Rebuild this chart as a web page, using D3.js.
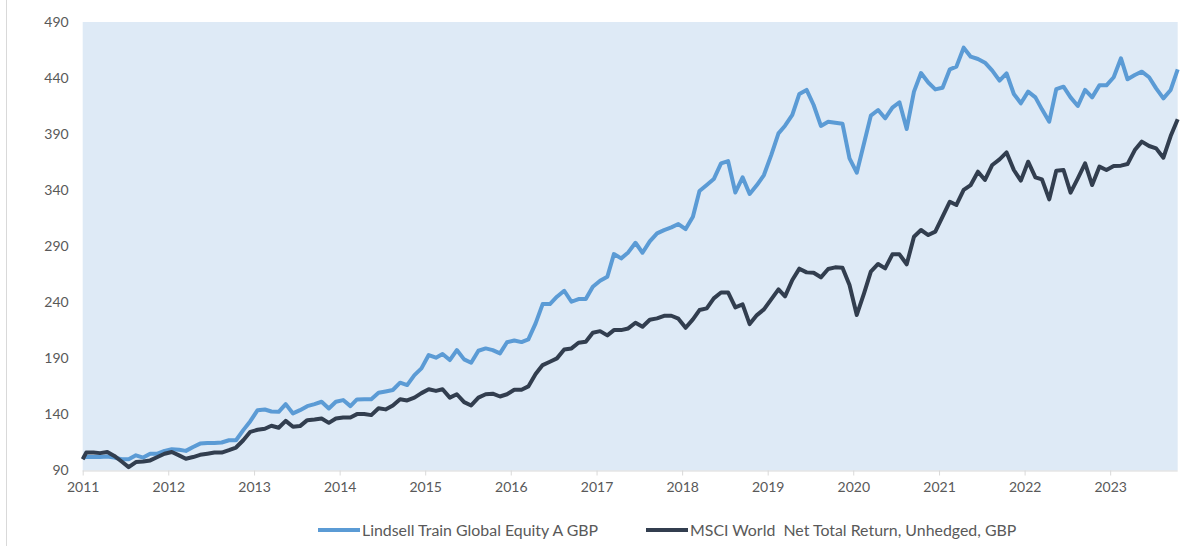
<!DOCTYPE html>
<html>
<head>
<meta charset="utf-8">
<script src="https://cdn.jsdelivr.net/npm/d3@7"></script>
<style>
  body { margin: 0; background: #ffffff; }
  text { font-family: Lato, "Open Sans", sans-serif; fill: #595959; }
</style>
</head>
<body>
<script>
    var w = 1203; //width of the SVG canvas
    var h = 546; //height of the SVG canvas
    var plotLeft = 82.7, plotRight = 1177.7, plotTop = 22, plotBottom = 470.5; //plot area edges

    var seriesNames = ["Lindsell Train Global Equity A GBP", "MSCI World  Net Total Return, Unhedged, GBP"];
    var seriesColors = ["#5b9bd5", "#323e4f"];
    var yTicks = [90, 140, 190, 240, 290, 340, 390, 440, 490];
    var xTickYears = [2011, 2012, 2013, 2014, 2015, 2016, 2017, 2018, 2019, 2020, 2021, 2022, 2023];

    //first value is the start (1 Jan 2011), then one value per month Jan 2011 .. Oct 2023
    var lindsell = [101.5,
        102, 102, 102, 102.5, 101.5, 100, 100, 103.5, 101.5, 105, 105, 107.5,
        109, 108.5, 107.5, 111, 114, 114.5, 114.5, 115, 117, 117, 126, 134,
        143.8, 144.4, 142.6, 142.3, 149.2, 140.9, 143.8, 147.4, 149.2, 151.3, 145.3, 151.3,
        152.8, 147.4, 153.4, 153.6, 153.6, 159.3, 160.5, 161.8, 168.3, 166.2, 175.1, 181.1,
        193, 190.6, 193.9, 188.5, 197.4, 189.1, 186.1, 196.8, 198.9, 197.4, 194.5, 204.4,
        206, 204.5, 206.9, 221.2, 238.4, 238.4, 245, 250.3, 240.5, 242.9, 242.9, 253.9,
        259.2, 262.8, 283, 279.2, 284.5, 293.1, 284.2, 294.3, 301.5, 304.4, 306.8, 309.8,
        305.3, 316.3, 339.2, 344.6, 349.9, 363.9, 366, 338, 351.4, 336.6, 344.6, 353.5,
        371.3, 390.7, 397.5, 407.1, 425.8, 429.4, 416, 397.3, 401.1, 400.2, 399.3, 368.4,
        355.6, 381.8, 406.5, 411.5, 404.1, 413.6, 418.4, 394.6, 427.9, 444.5, 436, 429.9,
        431.4, 447.8, 450.2, 467.1, 459.1, 457, 453.7, 446.6, 437.7, 444.2, 425.8, 417.5,
        427.9, 422.8, 412.1, 401.1, 430.1, 432.3, 422.8, 415.1, 429.4, 422.8, 433.5, 433.5,
        440.7, 457.6, 438.9, 442.7, 445.7, 440.7, 430.8, 421.9, 429.4, 447.8];

    var msci = [100,
        106, 106, 105.5, 106.5, 103, 98, 93, 97.5, 98, 99, 102, 105,
        106.5, 103.5, 100.5, 102, 104, 105, 106, 106, 108.2, 110.5, 117, 124.5,
        126.3, 127.2, 129.9, 128.1, 134.3, 129, 129.6, 134.9, 135.5, 136.4, 132.5, 136.4,
        137.3, 137.3, 140.3, 140.3, 139.4, 145.5, 144.5, 148, 153.5, 152.5, 155, 159,
        162.5, 161, 162.5, 155, 158, 151, 148, 155, 158, 158.5, 156, 158,
        162, 162, 165, 176, 184, 187, 190, 198, 198.9, 203.9, 204.8, 212.9,
        214.3, 210.5, 215.2, 215.2, 216.7, 221.8, 218.2, 224.5, 225.7, 228, 228, 225.4,
        217.3, 224.8, 233.1, 234.6, 243.5, 248.8, 248.8, 235.5, 238.1, 220.6, 228.6, 233.7,
        242.6, 251.5, 245.3, 259.9, 270, 266.7, 266.4, 262.3, 269.7, 271.2, 270.9, 255.4,
        228.7, 248, 267.3, 274.2, 270.3, 282.8, 282.8, 273.9, 298.5, 304.5, 300, 303,
        316.4, 329.7, 326.8, 340.2, 344.6, 356.5, 349.1, 362.5, 367.5, 373.7, 358, 348.5,
        365.4, 351.5, 349.7, 331.8, 357.4, 358, 337.8, 350.6, 363.9, 344.6, 361, 358,
        361.6, 361.9, 363.3, 375.8, 383.3, 379.4, 377.3, 369, 388.3, 403.2];

    //dates: start point, then the middle of each month
    var start = new Date(2011, 0, 1);
    var dates = [start].concat(d3.range(lindsell.length - 1).map(function(k) {
        return d3.timeDay.offset(d3.timeMonth.offset(start, k), 15);
    }));

    var xScale = d3.scaleTime()
        .domain([start, dates[dates.length - 1]])
        .range([plotLeft, plotRight]);

    var yScale = d3.scaleLinear()
        .domain([90, 490])
        .range([plotBottom, plotTop]);

    var svg = d3.select("body")
        .append("svg")
        .attr("width", w)
        .attr("height", h);

    //left frame line of the chart
    svg.append("line")
        .attr("x1", 6.5).attr("x2", 6.5)
        .attr("y1", 0).attr("y2", h)
        .attr("stroke", "#d9d9d9")
        .attr("stroke-width", 1);

    //plot area background
    svg.append("rect")
        .attr("x", plotLeft)
        .attr("y", plotTop)
        .attr("width", plotRight - plotLeft)
        .attr("height", plotBottom - plotTop)
        .attr("fill", "#deeaf6");

    //y axis: labels only
    var yAxis = d3.axisLeft(yScale)
        .tickValues(yTicks)
        .tickSize(0)
        .tickPadding(14);

    svg.append("g")
        .attr("class", "y axis")
        .attr("transform", "translate(" + plotLeft + ", 0)")
        .call(yAxis)
        .call(function(g) { g.select(".domain").remove(); })
        .selectAll("text")
        .style("font-size", "14px")
        .attr("fill", "#595959");

    //x axis: yearly ticks
    var xAxis = d3.axisBottom(xScale)
        .tickValues(xTickYears.map(function(y) { return new Date(y, 0, 1); }))
        .tickFormat(d3.timeFormat("%Y"))
        .tickSize(5)
        .tickPadding(7);

    var gx = svg.append("g")
        .attr("class", "x axis")
        .attr("transform", "translate(0, " + plotBottom + ")")
        .call(xAxis);

    gx.select(".domain")
        .attr("d", "M" + plotLeft + ",0.5H" + plotRight)
        .attr("stroke", "#d9d9d9");
    gx.selectAll(".tick line").attr("stroke", "#d9d9d9");
    gx.selectAll("text")
        .style("font-size", "14px")
        .attr("fill", "#595959");

    //lines
    var series = [lindsell, msci];
    var line = d3.line()
        .x(function(d, i) { return xScale(dates[i]); })
        .y(function(d) { return yScale(d); });

    svg.selectAll("path.series")
        .data(series)
        .enter()
        .append("path")
        .attr("class", "series")
        .attr("d", line)
        .attr("fill", "none")
        .attr("stroke", function(d, i) { return seriesColors[i]; })
        .attr("stroke-width", 4)
        .attr("stroke-linejoin", "round");

    //legend
    var legendX = [318, 646];
    var legend = svg.selectAll("g.legend")
        .data(seriesNames)
        .enter()
        .append("g")
        .attr("class", "legend")
        .attr("transform", function(d, i) { return "translate(" + legendX[i] + ", 530)"; });

    legend.append("line")
        .attr("x1", 0).attr("x2", 42)
        .attr("y1", 0).attr("y2", 0)
        .attr("stroke", function(d, i) { return seriesColors[i]; })
        .attr("stroke-width", 4);

    legend.append("text")
        .attr("x", 44)
        .attr("y", 5.5)
        .style("font-size", "15.9px")
        .style("white-space", "pre")
        .text(function(d) { return d; });
</script>
</body>
</html>
